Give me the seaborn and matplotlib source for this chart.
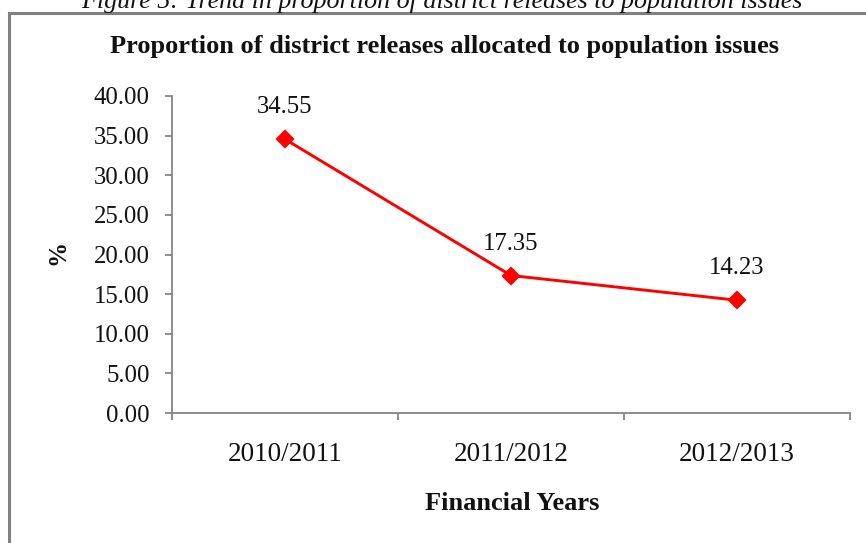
import matplotlib
matplotlib.use("Agg")
import matplotlib.pyplot as plt
from matplotlib.patches import Rectangle
import seaborn as sns
import pandas as pd

# Share of district releases going to population issues, by financial year
years = ["2010/2011", "2011/2012", "2012/2013"]
share_pct = [34.55, 17.35, 14.23]
y_ticks = [0, 5, 10, 15, 20, 25, 30, 35, 40]

sns.set_theme(style="white")
plt.rcParams["font.family"] = ["Liberation Serif", "DejaVu Serif"]

W, H, DPI = 866, 543, 100
fig = plt.figure(figsize=(W / DPI, H / DPI), dpi=DPI)
fig.patch.set_facecolor("white")

def px(x, y):
    """Pixel position (from top-left) to figure fraction."""
    return x / W, 1 - y / H

left, top = px(172, 96)
right, bottom = px(850, 413)
ax = fig.add_axes([left, bottom, right - left, top - bottom])

df = pd.DataFrame({"year": years, "share": share_pct})
sns.pointplot(data=df, x="year", y="share", color="#ff0000", markers="D",
              markersize=8, linewidth=2.1, ax=ax, errorbar=None)

ax.set_xlim(-0.5, len(years) - 0.5)
ax.set_ylim(y_ticks[0], y_ticks[-1])

# value labels above each point
for i, v in enumerate(share_pct):
    ax.annotate(f"{v:.2f}", (i, v), xytext=(0, 23), textcoords="offset points",
                ha="center", va="center", fontsize=17.8, color="#111111")

axis_grey = "#868686"
for side in ("top", "right"):
    ax.spines[side].set_visible(False)
for side in ("left", "bottom"):
    ax.spines[side].set_color(axis_grey)
    ax.spines[side].set_linewidth(1.3)

ax.set_yticks(y_ticks)
ax.set_yticklabels([f"{t:.2f}" for t in y_ticks])
ax.tick_params(axis="y", direction="out", length=5, width=1.3, color=axis_grey,
               pad=11, labelsize=17.8, labelcolor="#111111", left=True)

# category boundaries carry the tick marks, labels sit between them
ax.set_xticks([i - 0.5 for i in range(len(years) + 1)])
ax.set_xticklabels([])
ax.set_xticks(range(len(years)), minor=True)
ax.set_xticklabels(years, minor=True)
ax.tick_params(axis="x", which="major", direction="out", length=5, width=1.3,
               color=axis_grey, bottom=True)
ax.tick_params(axis="x", which="minor", length=0, pad=21, labelsize=19.5,
               labelcolor="#111111")
ax.set_xlabel("")
ax.set_ylabel("")
ax.grid(False)

# chart title and axis titles
tx, ty = px(445, 47)
fig.text(tx, ty, "Proportion of district releases allocated to population issues",
         ha="center", va="center", fontsize=19, fontweight="bold", color="#111111")
tx, ty = px(58, 252)
fig.text(tx, ty, "%", ha="center", va="center", rotation=90, fontsize=18,
         fontweight="bold", color="#111111")
tx, ty = px(512, 503)
fig.text(tx, ty, "Financial Years", ha="center", va="center", fontsize=19,
         fontweight="bold", color="#111111")

# caption running off the top edge
tx, ty = px(442, 8)
fig.text(tx, ty, "Figure 5: Trend in proportion of district releases to population issues",
         ha="center", va="baseline", fontsize=18.7, style="italic", color="#111111")

# frame around the chart area
x0, y0 = px(9, 13)
fig.patches.append(Rectangle((x0, -0.1), 1.2, y0 + 0.1, transform=fig.transFigure,
                             fill=False, edgecolor="#808080", linewidth=2.2,
                             clip_on=False))

fig.savefig("out.png", dpi=DPI)
